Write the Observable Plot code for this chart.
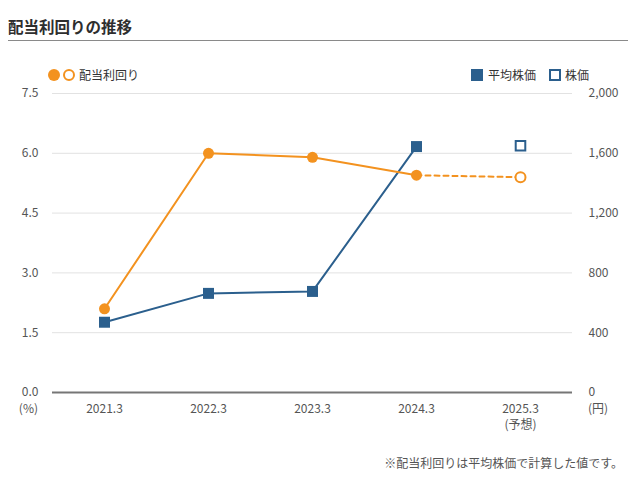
<!DOCTYPE html>
<html><head><meta charset="utf-8">
<script src="https://cdn.jsdelivr.net/npm/d3@7"></script>
<script src="https://cdn.jsdelivr.net/npm/@observablehq/plot@0.6"></script>
<style>
body{margin:0;background:#fff;font-family:"Noto Sans CJK JP","Noto Sans",sans-serif;}
#wrap{position:relative;width:642px;height:486px;overflow:hidden;}
#chart{position:absolute;left:0;top:0;}
.abs{position:absolute;white-space:nowrap;}
#title{left:8px;top:16px;font-size:15.5px;font-weight:bold;color:#2e2e2e;line-height:20px;}
#rule{left:8px;top:40px;width:620px;height:1px;background:#8a8a8a;}
.lg{font-size:12px;color:#333;line-height:16px;}
.unit{font-size:12px;color:#555;line-height:16px;}
#note{right:19px;top:455px;font-size:12px;color:#555;line-height:16px;}
</style></head><body><div id="wrap">
<div id="chart" class="abs"></div>
<div id="title" class="abs">配当利回りの推移</div>
<div id="rule" class="abs"></div>
<div class="abs lg" style="left:47px;top:67px;display:flex;align-items:center;">
  <svg width="30" height="14" style="margin-right:2px"><circle cx="7" cy="7" r="6" fill="#F3921F"/><circle cx="22" cy="7" r="5" fill="#fff" stroke="#F3921F" stroke-width="2"/></svg>配当利回り</div>
<div class="abs lg" style="left:470px;top:67px;display:flex;align-items:center;">
  <svg width="14" height="14" style="margin-right:4px"><rect x="1" y="1" width="12" height="12" fill="#2B5F8D"/></svg>平均株価
  <svg width="14" height="14" style="margin-left:12px;margin-right:3px"><rect x="2" y="2" width="10" height="10" fill="#fff" stroke="#2B5F8D" stroke-width="2"/></svg>株価</div>
<div class="abs unit" style="right:604px;top:400px;">(%)</div>
<div class="abs unit" style="left:588px;top:400px;">(円)</div>
<div id="note" class="abs">※配当利回りは平均株価で計算した値です。</div>
</div>
<script>
const years = ["2021.3","2022.3","2023.3","2024.3","2025.3"];
const yieldPct = [2.1, 6.0, 5.9, 5.45, 5.4];
const avgPrice = [470, 663, 676, 1645, null];
const forecastPrice = [null, null, null, null, 1650];
const leftTicks = [0, 1.5, 3, 4.5, 6, 7.5];
const rightTicks = [0, 400, 800, 1200, 1600, 2000];
const xLabels = ["2021.3","2022.3","2023.3","2024.3","2025.3\n(予想)"];

const ORANGE = "#F3921F", BLUE = "#2B5F8D";
const PMAX = 2000, YMAX = 7.5;
const toY = p => p * YMAX / PMAX;

const rows = years.map((x, i) => ({x, yld: yieldPct[i], price: avgPrice[i], fprice: forecastPrice[i], i}));
const yldActual = rows.slice(0, 4);
const yldForecast = rows.slice(3, 5);
const priceActual = rows.filter(d => d.price != null);
const priceForecast = rows.filter(d => d.fprice != null);

const plot = Plot.plot({
  width: 642, height: 486,
  marginTop: 93, marginBottom: 94, marginLeft: 52, marginRight: 70,
  style: {fontFamily: '"Noto Sans CJK JP","Noto Sans",sans-serif', fontSize: "12px", background: "transparent"},
  x: {type: "point", domain: years, padding: 0.5},
  y: {domain: [0, YMAX]},
  marks: [
    Plot.gridY(leftTicks.slice(1), {stroke: "#e2e2e2", strokeOpacity: 1}),
    Plot.ruleY([0], {stroke: "#767676", strokeWidth: 2}),
    Plot.axisY(leftTicks, {anchor: "left", tickSize: 0, tickPadding: 14, tickFormat: d => d.toFixed(1), fill: "#555", label: null}),
    Plot.axisY(rightTicks.map(toY), {anchor: "right", tickSize: 0, tickPadding: 16, tickFormat: d => d3.format(",")(Math.round(d * PMAX / YMAX)), fill: "#555", label: null}),
    Plot.axisX(years, {tickSize: 0, tickPadding: 9, tickFormat: d => xLabels[years.indexOf(d)], lineHeight: 1.33, fill: "#555", label: null}),
    Plot.line(priceActual, {x: "x", y: d => toY(d.price), stroke: BLUE, strokeWidth: 2}),
    Plot.line(yldActual, {x: "x", y: "yld", stroke: ORANGE, strokeWidth: 2}),
    Plot.line(yldForecast, {x: "x", y: "yld", stroke: ORANGE, strokeWidth: 2, strokeDasharray: "5,4"}),
    Plot.dot(priceActual, {x: "x", y: d => toY(d.price), symbol: "square", r: 6.2, fill: BLUE}),
    Plot.dot(priceForecast, {x: "x", y: d => toY(d.fprice), symbol: "square", r: 5.4, fill: "#fff", stroke: BLUE, strokeWidth: 2}),
    Plot.dot(yldActual, {x: "x", y: "yld", r: 5.5, fill: ORANGE}),
    Plot.dot(yldForecast.slice(1), {x: "x", y: "yld", r: 5, fill: "#fff", stroke: ORANGE, strokeWidth: 2})
  ]
});
document.getElementById("chart").appendChild(plot);
</script>
</body></html>
